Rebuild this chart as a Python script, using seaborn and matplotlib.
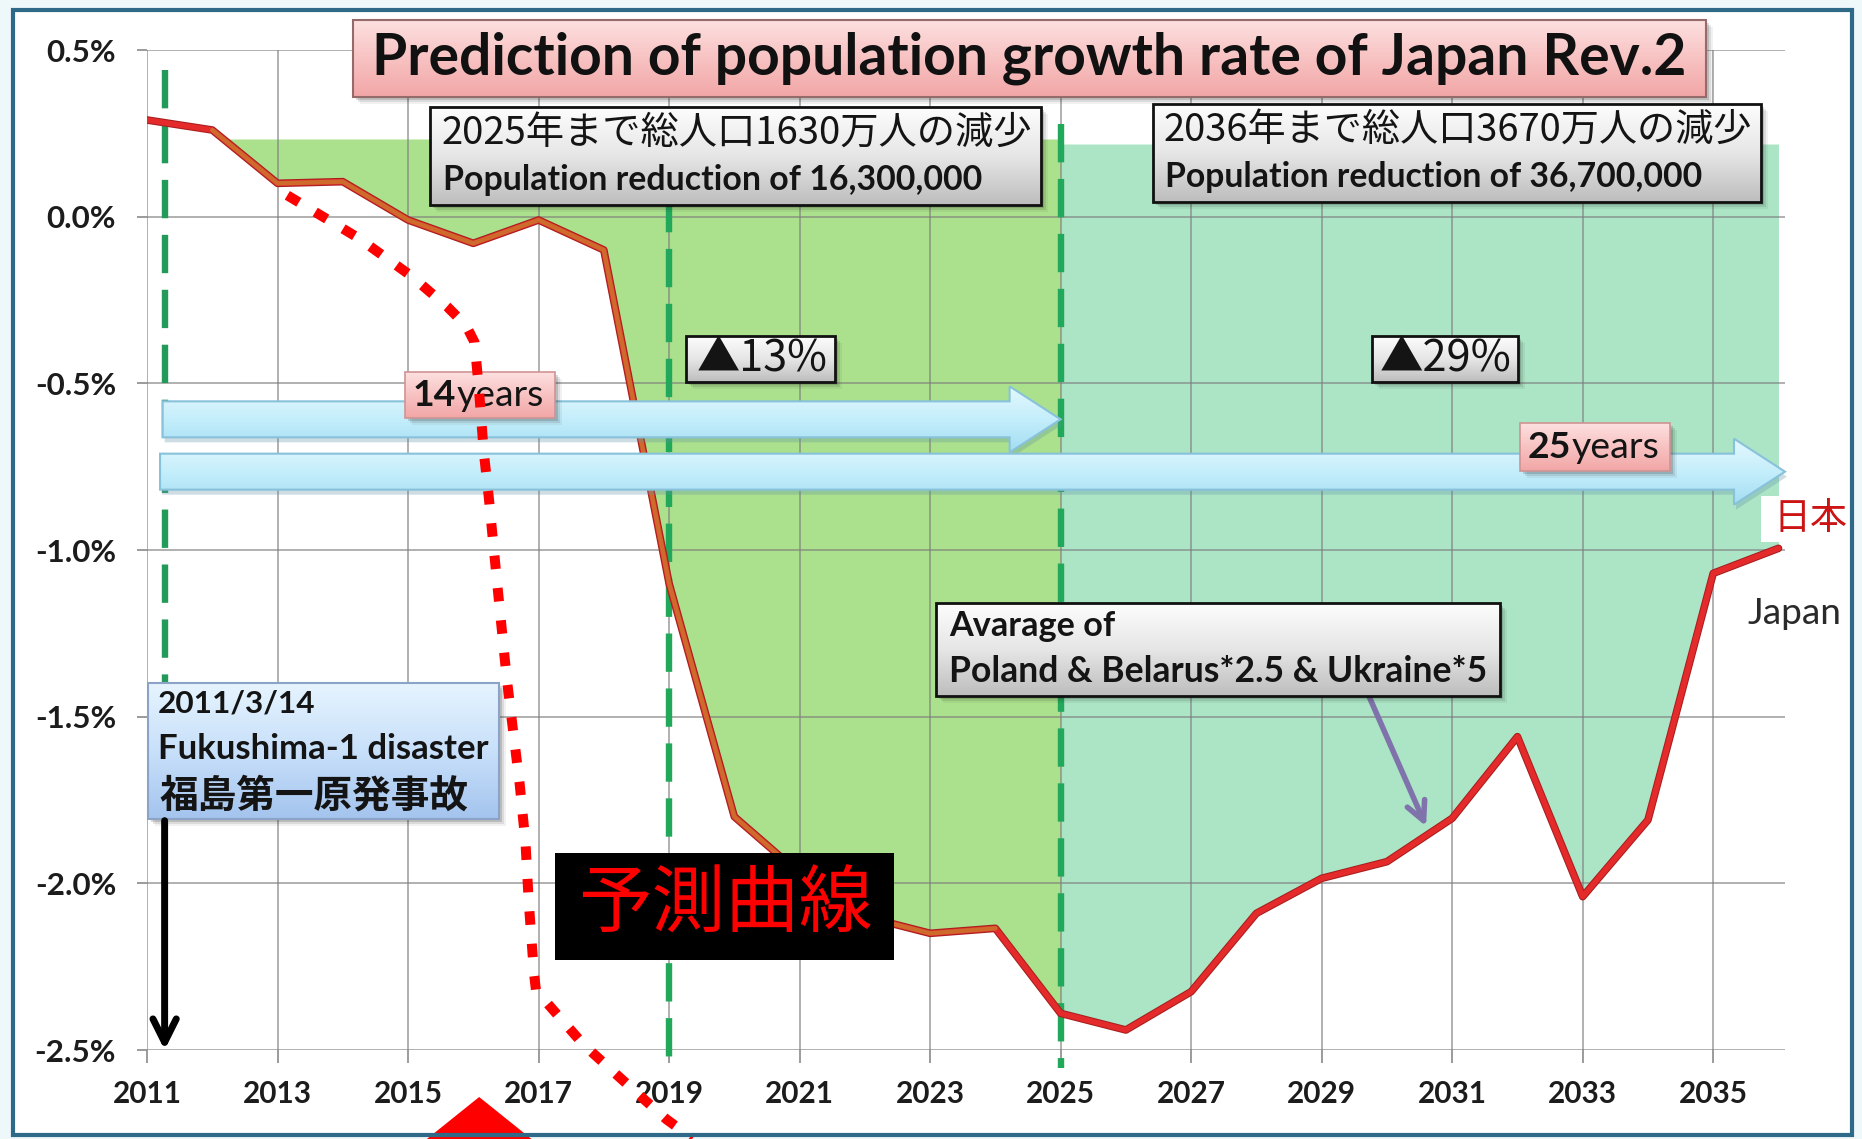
import numpy as np
import pandas as pd
import seaborn as sns
import matplotlib
matplotlib.use("Agg")
import matplotlib.pyplot as plt
from matplotlib.patches import Rectangle, Polygon
from matplotlib.colors import LinearSegmentedColormap
import matplotlib.patheffects as pe

W, H, DPI = 1862, 1139, 100

# ---------------- data ----------------
# Annual population growth rate of Japan (%), 2011-2036
years = list(range(2011, 2037))
japan_rate = [0.29, 0.26, 0.10, 0.105, -0.01, -0.08, -0.01, -0.10,
              -1.10, -1.80, -1.97, -2.10, -2.15, -2.135, -2.39, -2.44,
              -2.325, -2.09, -1.985, -1.935, -1.805, -1.56, -2.04, -1.81,
              -1.07, -0.995]

# Shaded reduction periods: (start year, end year) and upper edge (%)
period1_span = (2011, 2025)
period2_span = (2025, 2036)
period1_top = 0.233
period2_top = 0.218

# Hand-drawn forecast sketch (year, %)
sketch_year = [2013.15, 2014.24, 2015.05, 2015.60, 2015.89, 2016.02, 2016.09,
               2016.16, 2016.24, 2016.31, 2016.40, 2016.51, 2016.62, 2016.71,
               2016.80, 2016.85, 2016.93, 2016.96, 2017.18, 2017.69, 2018.45,
               2018.96, 2019.36]
sketch_rate = [0.064, -0.064, -0.178, -0.270, -0.327, -0.377, -0.527,
               -0.705, -0.847, -0.989, -1.167, -1.381, -1.559, -1.701,
               -1.879, -2.057, -2.270, -2.320, -2.370, -2.484, -2.619,
               -2.708, -2.765]

# Axis ticks
y_ticks = [0.5, 0.0, -0.5, -1.0, -1.5, -2.0, -2.5]
y_tick_labels = ["0.5%", "0.0%", "-0.5%", "-1.0%", "-1.5%", "-2.0%", "-2.5%"]
x_ticks = list(range(2011, 2036, 2))
x_tick_labels = [str(y) for y in x_ticks]

# Reference years
event_year = 2011.27          # 2011/3/14
milestone_years = [2019, 2025]

# Texts
title_text = "Prediction of population growth rate of Japan Rev.2"
box1_lines = ["2025年まで総人口1630万人の減少", "Population reduction of 16,300,000"]
box2_lines = ["2036年まで総人口3670万人の減少", "Population reduction of 36,700,000"]
drop1_text = "▲13%"
drop2_text = "▲29%"
span1_text = ("14", "years")
span2_text = ("25", "years")
event_lines = ["2011/3/14", "Fukushima-1 disaster", "福島第一原発事故"]
avg_lines = ["Avarage of", "Poland & Belarus*2.5 & Ukraine*5"]
forecast_text = "予測曲線"
label_jp = "日本"
label_en = "Japan"

# ---------------- figure ----------------
sns.set_theme(style="white")
plt.rcParams['font.family'] = ['Lato', 'Noto Sans CJK JP', 'DejaVu Sans']
CJK = ['Noto Sans CJK JP', 'DejaVu Sans']

fig = plt.figure(figsize=(W / DPI, H / DPI), dpi=DPI)
fig.patch.set_facecolor('#eef8fb')
fig.patches.append(Rectangle((13 / W, 1 - 1135 / H), (1852 - 13) / W, (1135 - 10) / H,
                             transform=fig.transFigure, fc='white', ec='none', zorder=-1))

ax = fig.add_axes([147 / W, 1 - 1050 / H, (1785 - 147) / W, (1050 - 50) / H])
ax.set_facecolor('none')
ax.set_xlim(2011, 2036.1)
ax.set_ylim(-2.5, 0.5)
for s in ax.spines.values():
    s.set_visible(False)

df = pd.DataFrame({"year": years, "rate": japan_rate})

# shaded periods between the curve and their upper edge
p1 = df[(df.year >= period1_span[0]) & (df.year <= period1_span[1])]
ax.fill_between(p1.year, p1.rate, period1_top, where=p1.rate <= period1_top,
                interpolate=True, color='#abe18c', lw=0, zorder=1)
p2 = df[(df.year >= period2_span[0]) & (df.year <= period2_span[1])]
ax.fill_between(p2.year, p2.rate, period2_top, where=p2.rate <= period2_top,
                interpolate=True, color='#abe5c6', lw=0, zorder=1)

# grid over the shading
ax.set_axisbelow(False)
ax.grid(True, color='#7d7d7d', lw=1.2, alpha=0.7)

# milestone dashed lines
DASH = dict(lw=4.6, dashes=(6.0, 2.6), zorder=2.8, clip_on=False,
            solid_capstyle='butt', dash_capstyle='butt')
ax.plot([event_year, event_year], [0.441, -1.5], color='#239a5a', **DASH)
ax.plot([milestone_years[0]] * 2, [period1_top, -2.555], color='#22a85a', **DASH)
ax.plot([milestone_years[1]] * 2, [0.279, -2.555], color='#22a85a', **DASH)

# Japan curve
sns.lineplot(data=df, x="year", y="rate", ax=ax, color='#e42a2a', lw=4, zorder=3,
             path_effects=[pe.Stroke(linewidth=5.5, foreground='#a81e1e'), pe.Normal()])
mid = df[(df.year >= 2012) & (df.year <= 2024)]
sns.lineplot(data=mid, x="year", y="rate", ax=ax, color='#cd6a2c', lw=3.2, zorder=3.1)

ax.set_xlabel("")
ax.set_ylabel("")
ax.set_xticks(x_ticks)
ax.set_yticks(y_ticks)

# tick label sizes from target widths
renderer = fig.canvas.get_renderer()


def measure(s, size, weight='bold', family=None):
    t = fig.text(0, 0, s, fontsize=size, fontweight=weight, family=family)
    w = t.get_window_extent(renderer).width
    t.remove()
    return w


ysz = 20 * 70 / measure("0.5%", 20)
xsz = 20 * 69 / measure("2011", 20)
ax.set_yticklabels(y_tick_labels, fontsize=ysz, fontweight='bold', color='#1c1c1c')
ax.set_xticklabels(x_tick_labels, fontsize=xsz, fontweight='bold', color='#1c1c1c')
ax.tick_params(axis='y', length=7.2, width=1.2, color='#8a8a8a', pad=15, left=True)
ax.tick_params(axis='x', length=9.4, width=1.2, color='#8a8a8a', pad=12, bottom=True)

# ---------------- overlay in pixel coordinates ----------------
ov = fig.add_axes([0, 0, 1, 1], zorder=5)
ov.set_autoscale_on(False)
ov.set_xlim(0, W)
ov.set_ylim(H, 0)
ov.axis('off')
ov.patch.set_alpha(0)


def to_px(xs, ys):
    pts = ax.transData.transform(np.column_stack([np.atleast_1d(xs), np.atleast_1d(ys)]))
    return pts[:, 0], H - pts[:, 1]


GRAD = np.linspace(0, 1, 256).reshape(-1, 1)


def grad_rect(x0, y0, x1, y1, colors, edge=None, lw=1.5, z=10, shadow=True):
    if shadow:
        for k, a in [(7, 0.06), (5, 0.1), (3, 0.16)]:
            ov.add_patch(Rectangle((x0 + k, y0 + k), x1 - x0, y1 - y0, fc='k',
                                   ec='none', alpha=a, zorder=z - 0.5))
    cmap = LinearSegmentedColormap.from_list('g', colors)
    ov.imshow(GRAD, cmap=cmap, extent=(x0, x1, y1, y0), origin='upper',
              aspect='auto', zorder=z, interpolation='bilinear')
    if edge:
        ov.add_patch(Rectangle((x0, y0), x1 - x0, y1 - y0, fc='none', ec=edge,
                               lw=lw, zorder=z + 0.1))


def fit_text(x, y, s, width, ha='left', va='center', color='#141414',
             weight='bold', family=None, z=20):
    t = ov.text(x, y, s, fontsize=20, ha=ha, va=va, color=color,
                fontweight=weight, family=family, zorder=z)
    w = t.get_window_extent(renderer).width
    t.set_fontsize(20 * width / w)
    return t


def two_part(x, y, bold, light, width, z=20):
    w1 = measure(bold, 20, 'bold')
    w2 = measure(light, 20, 'normal')
    size = 20 * width / (w1 + w2)
    ov.text(x, y, bold, fontsize=size, fontweight='bold', ha='left', va='center',
            color='#141414', zorder=z)
    ov.text(x + w1 * size / 20, y, light, fontsize=size, fontweight='normal',
            ha='left', va='center', color='#141414', zorder=z)


def block_arrow(x_start, x_end, y_center, sh=18, hh=33, hl=51, z=4):
    xs, yc = to_px([x_start, x_end], [y_center, y_center])
    x0, x1, yc = xs[0], xs[1], yc[0]
    pts = [(x0, yc - sh), (x1 - hl, yc - sh), (x1 - hl, yc - hh), (x1, yc),
           (x1 - hl, yc + hh), (x1 - hl, yc + sh), (x0, yc + sh)]
    shadow = Polygon([(px + 2, py + 5) for px, py in pts], closed=True, fc='#5f8fa6',
                     ec='none', alpha=0.3, zorder=z - 0.5)
    ov.add_patch(shadow)
    poly = Polygon(pts, closed=True, fc='none', ec='#88c2da', lw=1.5, zorder=z + 0.1)
    ov.add_patch(poly)
    cmap = LinearSegmentedColormap.from_list('a', ['#e4f8fe', '#c4eefb', '#a3ddf2'])
    im = ov.imshow(GRAD, cmap=cmap, extent=(x0, x1, yc + hh, yc - hh), origin='upper',
                   aspect='auto', zorder=z, interpolation='bilinear')
    im.set_clip_path(poly)


GREY = ['#fdfdfd', '#e6e6e6', '#bdbdbd']
PINK = ['#fde0e0', '#f8c2c2', '#f2a6a6']

# frame
ov.add_patch(Rectangle((13, 10), 1839, 1125, fc='none', ec='#2e6a88', lw=3, zorder=50))

# span arrows
block_arrow(2011.24, 2025.0, -0.608)
block_arrow(2011.2, 2036.1, -0.765)

# title
grad_rect(353, 20, 1706, 97, PINK, edge='#946a6a', lw=1.5, z=10)
fit_text(1029, 58, title_text, 1314, ha='center', color='#111111')

# period summary boxes
grad_rect(430, 107, 1041, 205, GREY, edge='#111111', lw=2, z=10)
fit_text(442, 133, box1_lines[0], 591, weight='normal', family=CJK)
fit_text(443, 180, box1_lines[1], 539)
grad_rect(1153, 104, 1761, 202, GREY, edge='#111111', lw=2, z=10)
fit_text(1164, 130, box2_lines[0], 589, weight='normal', family=CJK)
fit_text(1165, 177, box2_lines[1], 538)

grad_rect(686, 336, 835, 382, GREY, edge='#111111', lw=2, z=10)
fit_text(697, 359, drop1_text, 131, weight='normal', family=CJK)
grad_rect(1372, 336, 1518, 382, GREY, edge='#111111', lw=2, z=10)
fit_text(1380, 359, drop2_text, 132, weight='normal', family=CJK)

# span labels
grad_rect(405, 372, 555, 418, PINK, edge='#cf9494', lw=1.2, z=10)
two_part(413, 395, span1_text[0], span1_text[1], 131)
grad_rect(1520, 423, 1670, 471, PINK, edge='#cf9494', lw=1.2, z=10)
two_part(1528, 448, span2_text[0], span2_text[1], 131)

# event box and arrow
grad_rect(148, 683, 499, 819, ['#e6f4fe', '#c8e0fa', '#a4c4ee'], edge='#8aa3c6', lw=1.5, z=10)
fit_text(158, 703, event_lines[0], 157)
fit_text(158, 749, event_lines[1], 331)
fit_text(160, 796, event_lines[2], 309, family=CJK)
ex, ey = to_px([event_year, event_year], [-1.812, -2.5])
ov.annotate("", xy=(ex[1], ey[1]), xytext=(ex[0], ey[0]),
            arrowprops=dict(arrowstyle='->', color='black', lw=5, mutation_scale=42,
                            shrinkA=0, shrinkB=0), zorder=12)

# comparison box and pointer
grad_rect(936, 603, 1500, 696, GREY, edge='#111111', lw=2, z=10)
fit_text(949, 626, avg_lines[0], 166)
fit_text(949, 672, avg_lines[1], 539)
ax_, ay_ = to_px([2029.73, 2030.6], [-1.441, -1.829])
ov.annotate("", xy=(ax_[1], ay_[1]), xytext=(ax_[0], ay_[0]),
            arrowprops=dict(arrowstyle='->', color='#8073ab', lw=4, mutation_scale=34,
                            shrinkA=0, shrinkB=0), zorder=9)

# curve labels
ov.add_patch(Rectangle((1761, 496), 89, 46, fc='white', ec='none', zorder=10))
fit_text(1773, 519, label_jp, 74, weight='normal', color='#cc1414', family=CJK)
ov.add_patch(Rectangle((1744, 593), 106, 44, fc='white', ec='none', zorder=10))
fit_text(1747, 613, label_en, 94, weight='normal', color='#2a2a2a')

# forecast sketch
sx, sy = to_px(sketch_year, sketch_rate)
ov.plot(sx, sy, color='#ff0000', lw=7.2, dashes=(1.35, 1.9), solid_capstyle='butt',
        dash_capstyle='butt', zorder=25)
tx, _ = to_px([2016.09], [0])
tip = tx[0]
ov.add_patch(Polygon([(tip, 1097), (tip - 66, 1150), (tip + 66, 1150)], closed=True,
                     fc='#ff0000', ec='none', zorder=26))

# forecast label
ov.add_patch(Rectangle((555, 853), 339, 107, fc='black', ec='none', zorder=30))
fit_text(725, 906, forecast_text, 294, ha='center', weight='normal', color='#ff0000',
         family=CJK, z=31)

fig.savefig("out.png", dpi=DPI)
